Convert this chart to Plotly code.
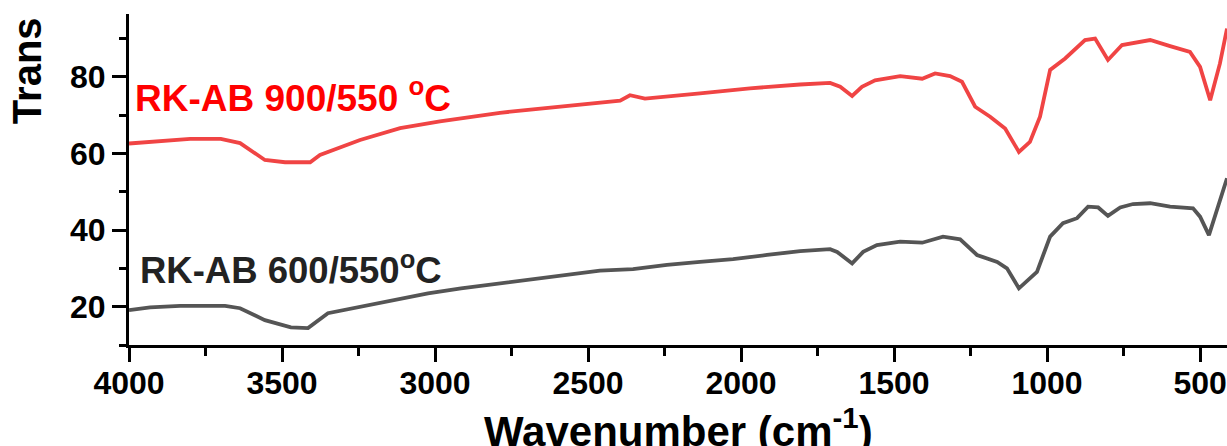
import plotly.graph_objects as go

# Wavenumber (cm-1) and transmittance values
wn_red = [4000, 3900, 3800, 3700, 3637, 3556, 3490, 3408, 3376, 3245,
          3114, 2984, 2853, 2788, 2696, 2592, 2461, 2395, 2363, 2314,
          2134, 1971, 1807, 1709, 1676, 1637, 1605, 1562, 1480, 1408,
          1366, 1317, 1278, 1235, 1186, 1137, 1092, 1056, 1023, 990,
          941, 876, 843, 801, 755, 696, 663, 598, 533, 500,
          467, 435, 412]
t_red = [62.6, 63.3, 63.8, 63.8, 62.7, 58.3, 57.7, 57.7, 59.6, 63.5,
         66.6, 68.4, 70.0, 70.6, 71.4, 72.2, 73.2, 73.8, 75.2, 74.3,
         75.7, 77.0, 78.0, 78.4, 77.4, 75.0, 77.4, 79.1, 80.2, 79.5,
         80.9, 80.2, 78.7, 72.2, 69.6, 66.5, 60.4, 63.0, 69.6, 81.8,
         84.8, 89.6, 90.0, 84.4, 88.3, 89.1, 89.6, 88.0, 86.5, 82.6,
         73.9, 83.5, 92.6]

wn_gray = [4000, 3931, 3833, 3686, 3637, 3556, 3471, 3415, 3350, 3242,
           3131, 3023, 2915, 2804, 2696, 2569, 2461, 2353, 2242, 2134,
           2026, 1915, 1807, 1709, 1686, 1637, 1601, 1556, 1480, 1408,
           1340, 1284, 1229, 1163, 1131, 1092, 1033, 990, 948, 902,
           866, 833, 801, 761, 719, 663, 598, 523, 500, 471,
           435, 412]
t_gray = [19.1, 19.8, 20.2, 20.2, 19.6, 16.5, 14.6, 14.4, 18.3, 20.0,
          21.9, 23.5, 24.8, 25.9, 27.1, 28.3, 29.4, 29.8, 30.9, 31.7,
          32.4, 33.5, 34.5, 35.0, 34.3, 31.3, 34.3, 36.1, 37.0, 36.7,
          38.3, 37.6, 33.5, 31.7, 30.0, 24.8, 29.1, 38.3, 41.8, 43.1,
          46.1, 45.9, 43.7, 45.9, 46.8, 47.0, 46.1, 45.7, 43.5, 38.7,
          47.8, 53.5]

x_ticks = [4000, 3500, 3000, 2500, 2000, 1500, 1000, 500]
y_ticks = [20, 40, 60, 80]

label_red = "RK-AB 900/550 <sup>o</sup>C"
label_gray = "RK-AB 600/550<sup>o</sup>C"

FONT = "Liberation Sans, Arial, sans-serif"

fig = go.Figure()
fig.add_trace(go.Scatter(x=wn_gray, y=t_gray, mode="lines",
                         line=dict(color="#555555", width=3.8), showlegend=False))
fig.add_trace(go.Scatter(x=wn_red, y=t_red, mode="lines",
                         line=dict(color="#F04444", width=3.8), showlegend=False))

fig.update_layout(
    width=1227, height=446,
    margin=dict(l=129, r=0, t=14, b=101),
    plot_bgcolor="white", paper_bgcolor="white",
    font=dict(family=FONT, color="black"),
)
fig.update_xaxes(
    range=[4000, 412], tickvals=x_ticks, ticktext=[str(v) for v in x_ticks],
    showline=True, linewidth=3, linecolor="black", showgrid=False, zeroline=False,
    ticks="outside", ticklen=14, tickwidth=3, tickcolor="black",
    tickfont=dict(size=32, family=FONT, color="black", weight="bold"),
    ticklabelstandoff=-6,
    minor=dict(tickvals=[3750, 3250, 2750, 2250, 1750, 1250, 750], ticklen=8,
               tickwidth=3, tickcolor="black", ticks="outside", showgrid=False),
    automargin=False,
)
fig.update_yaxes(
    range=[10, 96.4], tickvals=y_ticks, ticktext=[str(v) for v in y_ticks],
    showline=True, linewidth=3, linecolor="black", showgrid=False, zeroline=False,
    ticks="outside", ticklen=14, tickwidth=3, tickcolor="black",
    tickfont=dict(size=32, family=FONT, color="black", weight="bold"),
    minor=dict(tickvals=[10, 30, 50, 70, 90], ticklen=7, tickwidth=3,
               tickcolor="black", ticks="outside", showgrid=False),
    automargin=False,
)

fig.add_annotation(text=label_red, x=3988, y=75.2, xref="x", yref="y",
                   xanchor="left", yanchor="middle", showarrow=False,
                   font=dict(size=37, family=FONT, color="#FF0000", weight="bold"))
fig.add_annotation(text=label_gray, x=3972, y=30.1, xref="x", yref="y",
                   xanchor="left", yanchor="middle", showarrow=False,
                   font=dict(size=36.5, family=FONT, color="#222222", weight="bold"))
fig.add_annotation(text="Wavenumber (cm<sup>-1</sup>)", x=0.5, y=-0.25,
                   xref="paper", yref="paper", xanchor="center", yanchor="middle",
                   showarrow=False,
                   font=dict(size=42, family=FONT, color="black", weight="bold"))
fig.add_annotation(text="Trans", x=-0.093, y=0.83, xref="paper", yref="paper",
                   xanchor="center", yanchor="middle", textangle=-90, showarrow=False,
                   font=dict(size=40, family=FONT, color="black", weight="bold"))

fig.write_html("out.html", config={"displayModeBar": False},
               post_script="document.body.style.margin='0px';document.body.style.overflow='hidden';")
